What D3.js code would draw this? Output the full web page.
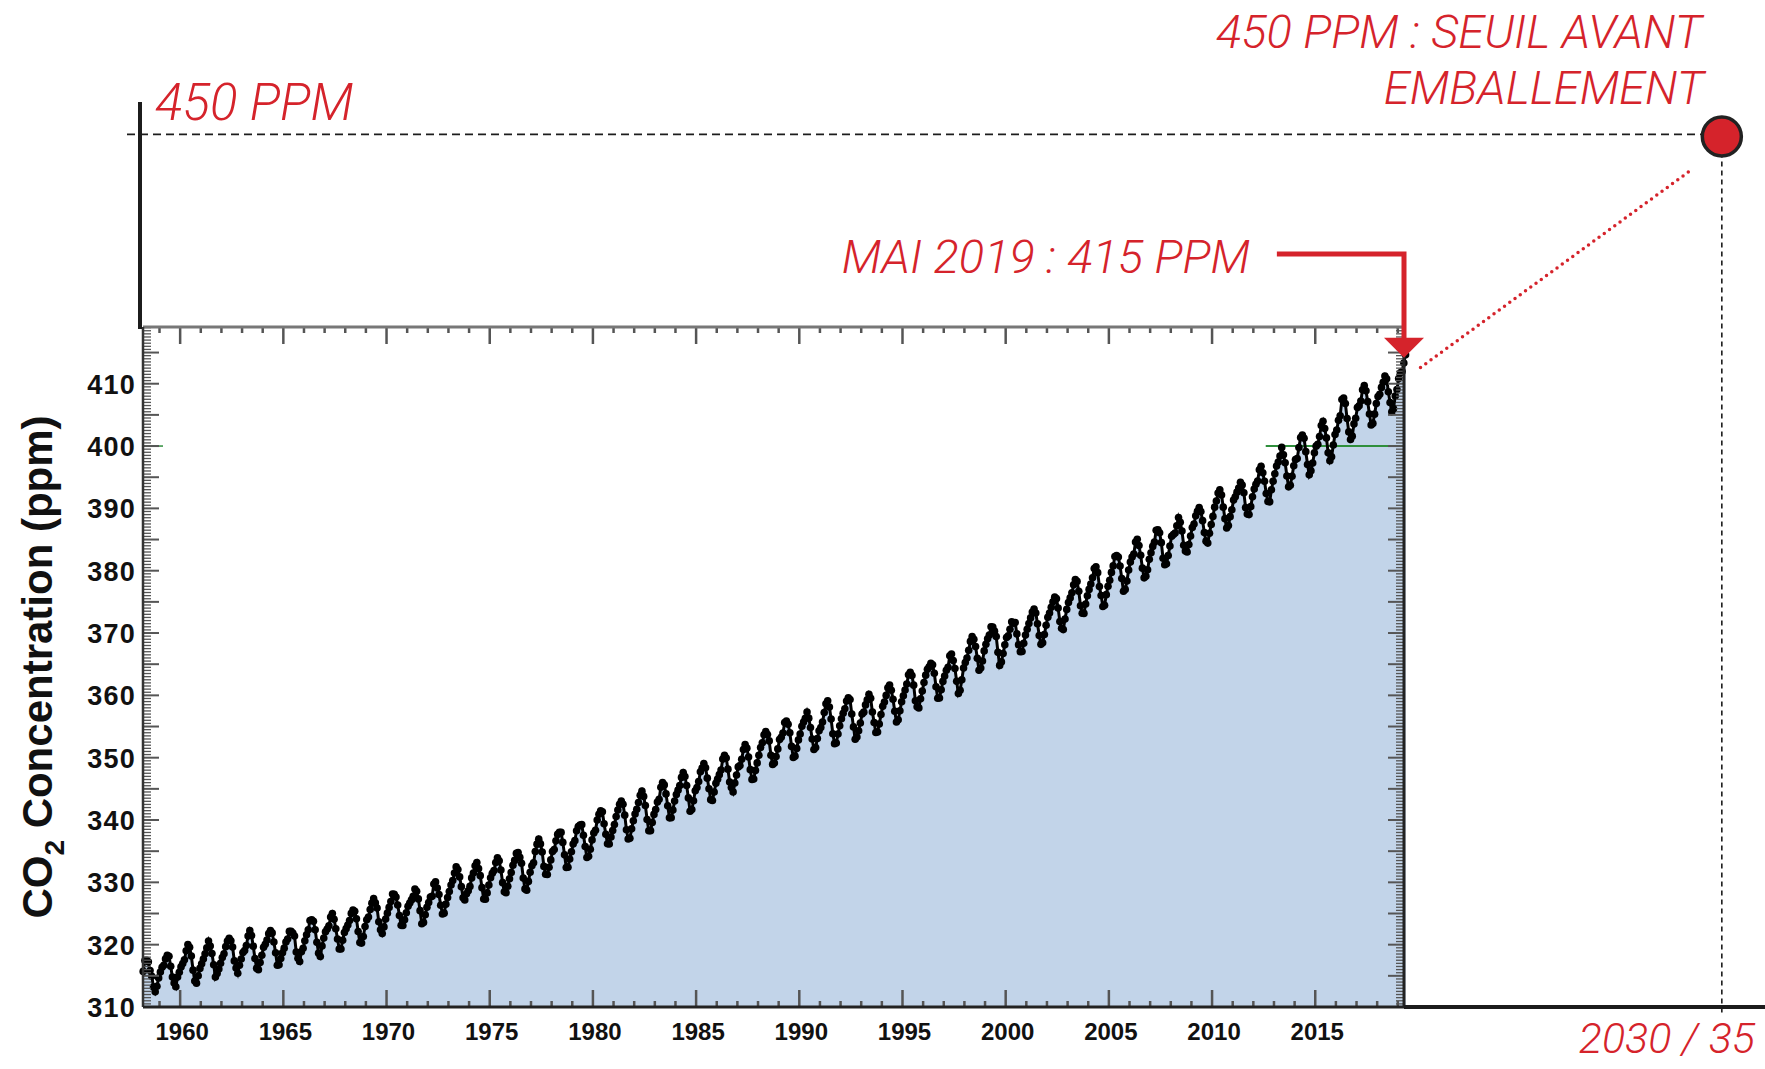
<!DOCTYPE html>
<html><head><meta charset="utf-8">
<script src="https://cdn.jsdelivr.net/npm/d3@7"></script>
<style>html,body{margin:0;padding:0;background:#fff;overflow:hidden}svg{display:block}</style>
</head><body>
<svg id="chart" width="1765" height="1069"></svg>
<script>
// ---------- DATA ----------
const startYear = 1958, startMonth = 3;
const co2Monthly = [
/*1958*/ 315.71,317.45,317.51,317.24,315.86,314.93,313.20,312.43,313.33,314.67,
/*1959*/ 315.62,316.38,316.71,317.72,318.29,318.15,316.54,314.80,313.84,313.26,314.80,315.58,
/*1960*/ 316.43,316.97,317.58,319.02,320.03,319.59,318.18,315.91,314.16,313.83,315.00,316.19,
/*1961*/ 316.93,317.70,318.54,319.48,320.58,319.77,318.57,316.79,314.80,315.38,316.10,317.01,
/*1962*/ 317.94,318.55,319.68,320.57,321.02,320.62,319.61,317.40,316.25,315.42,316.69,317.70,
/*1963*/ 318.74,319.07,319.86,321.38,322.25,321.48,319.74,317.77,316.21,315.99,317.12,318.31,
/*1964*/ 319.57,320.07,320.73,321.77,322.25,321.89,320.44,318.70,316.70,316.79,317.79,318.71,
/*1965*/ 319.44,320.44,320.89,322.13,322.16,321.87,321.39,318.81,317.81,317.30,318.87,319.42,
/*1966*/ 320.62,321.59,322.39,323.87,324.01,323.75,322.39,320.37,318.64,318.10,319.79,321.08,
/*1967*/ 322.07,322.50,323.04,324.42,325.00,324.09,322.55,320.92,319.31,319.31,320.72,321.96,
/*1968*/ 322.57,323.15,323.89,325.02,325.57,325.36,324.14,322.11,320.33,320.25,321.32,322.90,
/*1969*/ 324.00,324.42,325.64,326.66,327.38,326.70,325.89,323.67,322.38,321.78,322.85,324.12,
/*1970*/ 325.06,325.98,326.93,328.13,328.07,327.66,326.35,324.69,323.10,323.07,324.01,325.13,
/*1971*/ 326.17,326.68,327.18,327.78,328.92,328.57,327.34,325.46,323.36,323.57,324.80,326.01,
/*1972*/ 326.77,327.63,327.75,329.72,330.07,329.09,328.05,326.32,324.93,325.06,326.50,327.55,
/*1973*/ 328.54,329.56,330.30,331.50,332.48,332.07,330.87,329.31,327.51,327.18,328.16,328.64,
/*1974*/ 329.35,330.71,331.48,332.65,333.19,332.20,331.07,329.15,327.33,327.28,328.31,329.58,
/*1975*/ 330.73,331.46,331.90,333.17,333.94,333.45,331.98,329.95,328.50,328.34,329.37,330.58,
/*1976*/ 331.59,332.75,333.52,334.64,334.77,334.00,333.06,330.68,328.95,328.75,330.15,331.62,
/*1977*/ 332.66,333.13,334.95,336.13,336.93,336.17,334.88,332.56,331.29,331.27,332.41,333.60,
/*1978*/ 334.95,335.25,336.66,337.69,338.03,338.01,336.41,334.41,332.37,332.41,333.75,334.90,
/*1979*/ 336.14,336.69,338.27,338.96,339.21,339.26,337.54,335.75,333.98,334.19,335.31,336.81,
/*1980*/ 337.90,338.34,340.01,340.93,341.48,341.33,339.40,337.70,336.19,336.15,337.27,338.32,
/*1981*/ 339.29,340.55,341.61,342.53,343.03,342.54,340.78,338.44,336.95,337.08,338.58,339.88,
/*1982*/ 340.96,341.73,342.81,343.97,344.63,343.79,342.32,340.09,338.28,338.29,339.60,340.90,
/*1983*/ 341.68,342.90,343.33,345.25,346.03,345.63,344.19,342.27,340.35,340.38,341.59,343.05,
/*1984*/ 344.10,344.79,345.52,346.84,347.63,346.97,345.53,343.55,341.40,341.67,343.10,344.70,
/*1985*/ 345.21,346.16,347.74,348.34,349.06,348.38,346.72,345.02,343.27,343.13,344.49,345.88,
/*1986*/ 346.56,347.28,348.01,349.77,350.38,349.93,348.16,346.08,345.22,344.51,345.93,347.22,
/*1987*/ 348.52,348.73,349.73,351.31,352.09,351.53,350.11,348.08,346.52,346.59,347.96,349.16,
/*1988*/ 350.39,351.64,352.40,353.69,354.21,353.72,352.69,350.40,348.92,349.13,350.20,351.41,
/*1989*/ 352.91,353.27,353.96,355.64,355.86,355.37,353.99,351.81,350.05,350.25,351.49,352.85,
/*1990*/ 353.80,355.04,355.73,356.32,357.32,356.34,354.84,353.01,351.31,351.62,353.07,354.33,
/*1991*/ 354.84,355.73,357.23,358.66,359.13,358.13,356.19,353.85,352.25,352.35,353.81,355.12,
/*1992*/ 356.25,357.11,357.86,359.09,359.59,359.33,357.01,354.94,352.96,353.32,354.32,355.57,
/*1993*/ 357.00,357.31,358.47,359.27,360.19,359.52,357.33,355.64,354.03,354.12,355.41,356.91,
/*1994*/ 358.24,358.92,359.99,361.23,361.65,360.81,359.38,357.46,355.73,356.08,357.53,358.98,
/*1995*/ 359.92,360.86,361.83,363.30,363.69,363.19,361.64,359.12,358.17,357.99,359.45,360.68,
/*1996*/ 362.07,363.24,364.17,364.57,365.13,364.92,363.55,361.38,359.54,359.58,360.89,362.24,
/*1997*/ 363.09,364.03,364.51,366.35,366.64,365.59,364.31,362.25,360.29,360.82,362.49,364.38,
/*1998*/ 365.26,365.98,367.24,368.66,369.42,368.99,367.82,365.95,364.02,364.40,365.52,367.13,
/*1999*/ 368.18,369.07,369.68,370.99,370.96,370.30,369.45,366.90,364.81,365.37,366.72,368.10,
/*2000*/ 369.29,369.54,370.60,371.81,371.58,371.70,369.86,368.13,367.00,367.03,368.37,369.67,
/*2001*/ 370.59,371.51,372.43,373.37,373.85,373.22,371.50,369.61,368.18,368.45,369.76,371.24,
/*2002*/ 372.53,373.20,374.12,375.02,375.76,375.52,374.01,371.85,370.75,370.55,372.25,373.79,
/*2003*/ 374.88,375.64,376.45,377.73,378.60,378.28,376.70,374.38,373.17,373.15,374.66,375.99,
/*2004*/ 377.00,377.87,378.88,380.35,380.62,379.69,377.47,376.01,374.25,374.46,376.16,377.51,
/*2005*/ 378.46,379.73,380.77,382.29,382.45,382.21,380.74,378.74,376.70,377.00,378.35,380.11,
/*2006*/ 381.38,382.19,382.67,384.61,385.03,384.05,382.46,380.41,378.85,379.13,380.15,381.82,
/*2007*/ 382.89,383.90,384.58,386.50,386.56,386.10,384.50,381.99,380.96,381.12,382.45,383.95,
/*2008*/ 385.52,385.82,386.03,387.21,388.54,387.76,386.36,384.09,383.18,382.99,384.19,385.56,
/*2009*/ 386.94,387.48,388.82,389.55,390.14,389.48,388.03,386.11,384.74,384.43,386.02,387.42,
/*2010*/ 388.71,390.20,391.17,392.46,393.00,392.15,390.20,388.35,386.85,387.24,388.67,389.79,
/*2011*/ 391.33,391.86,392.60,393.25,394.19,393.74,392.51,390.13,389.08,389.00,390.28,391.86,
/*2012*/ 393.12,393.86,394.40,396.18,396.74,395.71,394.36,392.39,391.11,391.05,392.98,394.34,
/*2013*/ 395.55,396.80,397.43,398.41,399.78,398.61,397.32,395.20,393.45,393.70,395.16,396.84,
/*2014*/ 397.85,398.01,399.77,401.38,401.78,401.25,399.10,397.03,395.38,396.03,397.28,398.91,
/*2015*/ 399.98,400.28,401.54,403.28,403.96,402.80,401.31,398.93,397.63,398.29,400.16,401.85,
/*2016*/ 402.56,404.12,404.87,407.45,407.72,406.83,404.41,402.27,401.05,401.59,403.55,404.45,
/*2017*/ 406.17,406.46,407.22,409.04,409.69,408.88,407.12,405.13,403.37,403.63,405.12,406.81,
/*2018*/ 407.96,408.32,409.41,410.24,411.24,410.79,408.71,406.99,405.51,406.00,408.02,409.07,
/*2019*/ 410.83,411.75,411.97,413.32,414.66
];
const yearTicks = [1960, 1965, 1970, 1975, 1980, 1985, 1990, 1995, 2000, 2005, 2010, 2015];
const ppmTicks = [310, 320, 330, 340, 350, 360, 370, 380, 390, 400, 410];
const xDomain = [1958.2, 2019.3];
const yDomain = [310, 419.1];
const milestonePpm = 400, milestoneFrom = 2012.6;
const thresholdPpm = 450;
const projection = { year: 2034.7, ppm: 450 };
const currentMark = { year: 2019.3, ppm: 414.66, label: "MAI 2019 : 415 PPM" };
const yAxisLabel = ["CO", "2", " Concentration (ppm)"];
const titleLines = ["450 PPM : SEUIL AVANT", "EMBALLEMENT"];
const thresholdLabel = "450 PPM";
const projectionLabel = "2030 / 35";

// ---------- LAYOUT ----------
const RED = "#d5232b", BLUE = "#c2d4e9", GREEN = "#2f8f3c", INK = "#1c1c1c";
const plot = { left: 143, right: 1404, top: 327, bottom: 1007 };
const svg = d3.select("#chart");
const x = d3.scaleLinear().domain(xDomain).range([plot.left, plot.right]);
const y = d3.scaleLinear().domain(yDomain).range([plot.bottom, plot.top]);

const data = co2Monthly.map((v, i) => ({ t: startYear + (startMonth - 1 + i + 0.5) / 12, v }));

// area fill
svg.append("path").datum(data)
  .attr("fill", BLUE)
  .attr("d", d3.area().x(d => x(d.t)).y0(y(yDomain[0])).y1(d => y(d.v)));

// milestone green line
svg.append("line").attr("x1", x(milestoneFrom)).attr("x2", x(xDomain[1]))
  .attr("y1", y(milestonePpm)).attr("y2", y(milestonePpm))
  .attr("stroke", GREEN).attr("stroke-width", 2);
svg.append("line").attr("x1", plot.left).attr("x2", plot.left + 20)
  .attr("y1", y(milestonePpm)).attr("y2", y(milestonePpm))
  .attr("stroke", GREEN).attr("stroke-width", 1.5);

// series
svg.append("path").datum(data).attr("fill", "none").attr("stroke", "#000").attr("stroke-width", 3)
  .attr("d", d3.line().x(d => x(d.t)).y(d => y(d.v)));
svg.append("g").selectAll("circle").data(data).join("circle")
  .attr("cx", d => x(d.t)).attr("cy", d => y(d.v)).attr("r", 3.8).attr("fill", "#000");

// ticks
const yearsAll = d3.range(Math.ceil(xDomain[0]), Math.floor(xDomain[1]) + 1);
const ppmAll = d3.range(yDomain[0], yDomain[1], 0.5);
const tk = svg.append("g").attr("stroke", "#555");
yearsAll.forEach(yr => {
  const L = yr % 5 === 0 ? 17 : 6;
  tk.append("line").attr("x1", x(yr)).attr("x2", x(yr)).attr("y1", plot.bottom).attr("y2", plot.bottom - L).attr("stroke-width", 2.5);
  tk.append("line").attr("x1", x(yr)).attr("x2", x(yr)).attr("y1", plot.top).attr("y2", plot.top + L).attr("stroke-width", 2.5);
});
ppmAll.forEach(p => {
  const L = p % 5 === 0 ? 16 : 8;
  const w = p % 5 === 0 ? 2 : 1.3;
  tk.append("line").attr("x1", plot.left).attr("x2", plot.left + L).attr("y1", y(p)).attr("y2", y(p)).attr("stroke-width", w);
  tk.append("line").attr("x1", plot.right).attr("x2", plot.right - L).attr("y1", y(p)).attr("y2", y(p)).attr("stroke-width", w);
});

// frame
svg.append("line").attr("x1", plot.left).attr("x2", plot.right).attr("y1", plot.top).attr("y2", plot.top).attr("stroke", "#777").attr("stroke-width", 3);
svg.append("line").attr("x1", plot.left).attr("x2", plot.left).attr("y1", plot.top).attr("y2", plot.bottom).attr("stroke", "#333").attr("stroke-width", 2.5);
svg.append("line").attr("x1", plot.right).attr("x2", plot.right).attr("y1", plot.top).attr("y2", plot.bottom).attr("stroke", "#222").attr("stroke-width", 3);
svg.append("line").attr("x1", plot.left).attr("x2", plot.right).attr("y1", plot.bottom).attr("y2", plot.bottom).attr("stroke", "#222").attr("stroke-width", 3);

// tick labels
svg.append("g").selectAll("text").data(yearTicks).join("text")
  .attr("x", d => x(d) + 2).attr("y", 1040).attr("text-anchor", "middle")
  .attr("font-family", "Liberation Sans, Arial, sans-serif").attr("font-weight", "bold").attr("font-size", 24)
  .attr("fill", "#111").text(d => d);
svg.append("g").selectAll("text").data(ppmTicks).join("text")
  .attr("x", 136).attr("y", d => y(d) + 10).attr("text-anchor", "end")
  .attr("font-family", "Liberation Sans, Arial, sans-serif").attr("font-weight", "bold").attr("font-size", 27)
  .attr("letter-spacing", 1.2).attr("fill", "#111").text(d => d);

// y axis title
const yt = svg.append("text").attr("transform", `translate(52,${(plot.top + plot.bottom) / 2}) rotate(-90)`)
  .attr("text-anchor", "middle").attr("font-family", "Liberation Sans, Arial, sans-serif")
  .attr("font-weight", "bold").attr("font-size", 42).attr("fill", "#111");
yt.append("tspan").text(yAxisLabel[0]);
yt.append("tspan").attr("font-size", 28).attr("dy", 12).text(yAxisLabel[1]);
yt.append("tspan").attr("dy", -12).text(yAxisLabel[2]);

// outer extension axes
svg.append("line").attr("x1", 140).attr("x2", 140).attr("y1", y(455.2)).attr("y2", plot.top + 2)
  .attr("stroke", INK).attr("stroke-width", 4);
svg.append("line").attr("x1", plot.right).attr("x2", 1765).attr("y1", plot.bottom).attr("y2", plot.bottom)
  .attr("stroke", INK).attr("stroke-width", 4);

// threshold dashed line
svg.append("line").attr("x1", 127).attr("x2", x(projection.year)).attr("y1", y(thresholdPpm)).attr("y2", y(thresholdPpm))
  .attr("stroke", INK).attr("stroke-width", 1.6).attr("stroke-dasharray", "8,5");
// projection vertical dashed
svg.append("line").attr("x1", x(projection.year)).attr("x2", x(projection.year))
  .attr("y1", y(thresholdPpm)).attr("y2", plot.bottom + 8)
  .attr("stroke", INK).attr("stroke-width", 1.6).attr("stroke-dasharray", "5,4");
// red dotted connector
svg.append("line").attr("x1", x(2020.1)).attr("y1", y(412.6)).attr("x2", x(2033.3)).attr("y2", y(444.5))
  .attr("stroke", RED).attr("stroke-width", 3.5).attr("stroke-linecap", "round").attr("stroke-dasharray", "0,6.5");
// red dot
svg.append("circle").attr("cx", x(projection.year)).attr("cy", y(projection.ppm) + 2).attr("r", 19.5)
  .attr("fill", RED).attr("stroke", "#222").attr("stroke-width", 3.5);

// MAI 2019 arrow
const tipX = x(currentMark.year), tipY = y(currentMark.ppm) + 3;
const elbowY = y(430.8), startX = x(2013.14);
svg.append("path").attr("d", `M${startX},${elbowY} H${tipX} V${tipY - 18}`)
  .attr("fill", "none").attr("stroke", RED).attr("stroke-width", 5);
svg.append("path").attr("d", `M${tipX - 20},${tipY - 20} L${tipX + 20},${tipY - 20} L${tipX},${tipY} Z`).attr("fill", RED);

// red labels
const redFont = "Roboto, 'Open Sans', 'Liberation Sans', sans-serif";
function redText(t, xx, yy, size, anchor) {
  return svg.append("text").attr("x", xx).attr("y", yy).attr("text-anchor", anchor)
    .attr("font-family", redFont).attr("font-weight", 300).attr("font-style", "italic")
    .attr("font-size", size).attr("fill", RED).text(t);
}
redText(currentMark.label, 1250, 273, 47, "end");
redText(thresholdLabel, 155, 120, 51, "start");
redText(titleLines[0], 1702, 48, 47, "end");
redText(titleLines[1], 1704, 104, 47, "end");
redText(projectionLabel, 1755, 1053, 43, "end");
</script>
</body></html>
